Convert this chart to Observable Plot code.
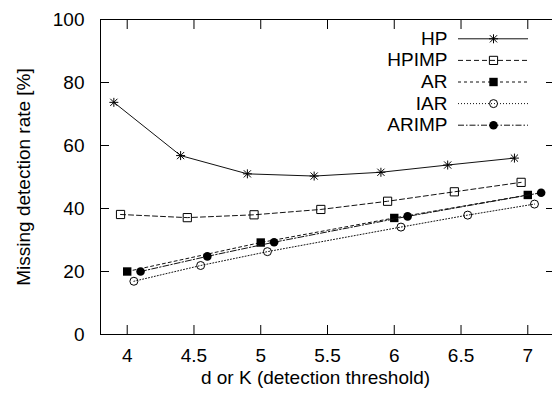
<!DOCTYPE html>
<html><head><meta charset="utf-8">
<script src="https://cdn.jsdelivr.net/npm/d3@7"></script>
<script src="https://cdn.jsdelivr.net/npm/@observablehq/plot@0.6"></script>
<style>body{margin:0;background:#fff}</style>
</head><body><div id="chart"></div>
<script>
const seriesNames = ["HP", "HPIMP", "AR", "IAR", "ARIMP"];
const hpX = [3.9, 4.4, 4.9, 5.4, 5.9, 6.4, 6.9];
const hpY = [73.7, 56.8, 51.0, 50.3, 51.5, 53.8, 56.0];
const hpimpX = [3.95, 4.45, 4.95, 5.45, 5.95, 6.45, 6.95];
const hpimpY = [38.1, 37.1, 38.0, 39.7, 42.3, 45.3, 48.3];
const arX = [4.0, 5.0, 6.0, 7.0];
const arY = [20.0, 29.2, 37.0, 44.3];
const iarX = [4.05, 4.55, 5.05, 6.05, 6.55, 7.05];
const iarY = [16.9, 21.9, 26.3, 34.1, 37.9, 41.4];
const arimpX = [4.1, 4.6, 5.1, 6.1, 7.1];
const arimpY = [20.0, 24.8, 29.3, 37.5, 45.0];
const xTicks = [4, 4.5, 5, 5.5, 6, 6.5, 7];
const yTicks = [0, 20, 40, 60, 80, 100];
const xLabel = "d or K (detection threshold)";
const yLabel = "Missing detection rate [%]";

const W = 552, H = 400, mL = 100, mR = -2, mT = 19, mB = 66;
const xDomain = [3.8, 7.2], yDomain = [0, 100];
const px2x = px => xDomain[0] + (px - mL) / (W - mL - mR) * (xDomain[1] - xDomain[0]);
const py2y = py => yDomain[1] - (py - mT) / (H - mT - mB) * (yDomain[1] - yDomain[0]);

const star = {draw(ctx, size) {
  const r = Math.sqrt(size / Math.PI), d = r * 0.8;
  ctx.moveTo(-r, 0); ctx.lineTo(r, 0);
  ctx.moveTo(0, -r); ctx.lineTo(0, r);
  ctx.moveTo(-d, -d); ctx.lineTo(d, d);
  ctx.moveTo(-d, d); ctx.lineTo(d, -d);
}};
const sq = {draw(ctx, size) {
  const r = Math.sqrt(size / Math.PI);
  ctx.rect(-r, -r, 2 * r, 2 * r);
}};

const seriesX = [hpX, hpimpX, arX, iarX, arimpX];
const seriesY = [hpY, hpimpY, arY, iarY, arimpY];
const styles = [
  {dash: null, symbol: star, fill: "none", stroke: "#000", r: 4.5},
  {dash: "5,3", symbol: sq, fill: "none", stroke: "#000", r: 4.1},
  {dash: "3,3", symbol: sq, fill: "#000", stroke: "none", r: 4.2},
  {dash: "1,2", symbol: "circle", fill: "none", stroke: "#000", r: 4},
  {dash: "6,2,1.5,2", symbol: "circle", fill: "#000", stroke: "none", r: 4.3}
];

const marks = [];
seriesNames.forEach((name, i) => {
  const data = seriesX[i].map((x, j) => ({x, y: seriesY[i][j]}));
  const s = styles[i];
  marks.push(Plot.line(data, {x: "x", y: "y", stroke: "#111", strokeWidth: 1, strokeDasharray: s.dash}));
  marks.push(Plot.dot(data, {x: "x", y: "y", symbol: s.symbol, r: s.r, fill: s.fill, stroke: s.stroke, strokeWidth: 1}));
  const ly = py2y(38.3 + 21.6 * i);
  marks.push(Plot.text([name], {x: px2x(447), y: ly, text: d => d, textAnchor: "end", fontSize: 19, fill: "#000"}));
  marks.push(Plot.ruleY([ly], {x1: px2x(458), x2: px2x(528), stroke: "#111", strokeWidth: 1, strokeDasharray: s.dash}));
  marks.push(Plot.dot([ly], {x: px2x(493), y: d => d, symbol: s.symbol, r: s.r, fill: s.fill, stroke: s.stroke, strokeWidth: 1}));
});

const chart = Plot.plot({
  width: W, height: H,
  marginLeft: mL, marginRight: mR, marginTop: mT, marginBottom: mB,
  style: {fontFamily: "'Liberation Sans', Arial, sans-serif", fontSize: "19px", background: "#fff", color: "#000"},
  x: {type: "linear", domain: xDomain},
  y: {type: "linear", domain: yDomain},
  marks: [
    Plot.frame({stroke: "#000", strokeWidth: 1}),
    Plot.axisX(xTicks, {anchor: "bottom", tickSize: -9, tickFormat: () => "", label: null}),
    Plot.axisX(xTicks, {anchor: "top", tickSize: -9, tickFormat: () => "", label: null}),
    Plot.axisY(yTicks, {anchor: "left", tickSize: -9, tickFormat: () => "", label: null}),
    Plot.axisY(yTicks, {anchor: "right", tickSize: -9, tickFormat: () => "", label: null}),
    Plot.axisX(xTicks, {anchor: "bottom", tickSize: 0, tickPadding: 14, fontSize: 19, label: null, tickFormat: d => String(d)}),
    Plot.axisY(yTicks, {anchor: "left", tickSize: 0, tickPadding: 16, fontSize: 19, label: null, tickFormat: d => String(d)}),
    Plot.text([yLabel], {frameAnchor: "left", dx: -77, rotate: -90, fontSize: 19, text: d => d, textAnchor: "middle", lineAnchor: "middle", fill: "#000"}),
    Plot.text([xLabel], {frameAnchor: "bottom", dx: -12, dy: 43, fontSize: 19, text: d => d, textAnchor: "middle", lineAnchor: "middle", fill: "#000"}),
    ...marks
  ]
});
document.getElementById("chart").appendChild(chart);
</script>
</body></html>
